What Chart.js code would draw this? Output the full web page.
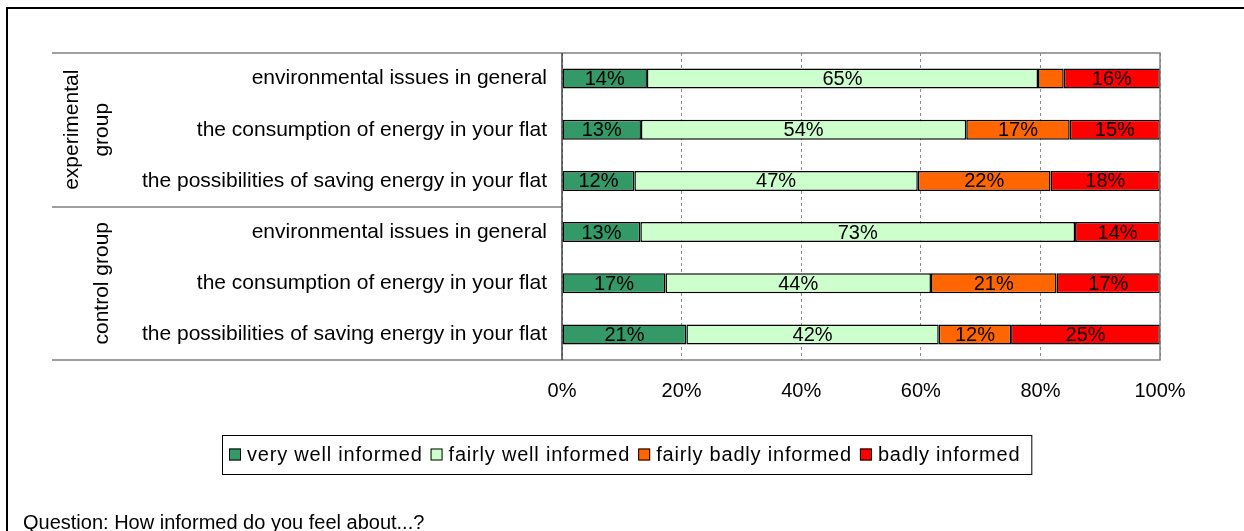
<!DOCTYPE html>
<html>
<head>
<meta charset="utf-8">
<title>How informed do you feel about...?</title>
<script src="https://cdn.jsdelivr.net/npm/chart.js@4.4.1/dist/chart.umd.min.js"></script>
<style>
  html, body { margin: 0; padding: 0; background: #fff; }
  #wrap { position: relative; width: 1244px; height: 531px; }
</style>
</head>
<body>
<div id="wrap"><canvas id="infoChart"></canvas></div>
<script>
/* data */
const categories = [
  'environmental issues in general',
  'the consumption of energy in your flat',
  'the possibilities of saving energy in your flat',
  'environmental issues in general',
  'the consumption of energy in your flat',
  'the possibilities of saving energy in your flat'
];
const groupNames = [['experimental', 'group'], ['control group']];
const groupSizes = [3, 3];
const seriesNames = ['very well informed', 'fairly well informed', 'fairly badly informed', 'badly informed'];
const veryWell    = [14.2, 13.2, 12.1, 13.1, 17.3, 20.8];
const fairlyWell  = [65.4, 54.4, 47.4, 72.7, 44.4, 42.2];
const fairlyBadly = [4.3, 17.3, 22.2, null, 21.0, 12.1];
const badly       = [16.1, 15.1, 18.3, 14.2, 17.3, 24.9];
const xTicks = [0, 20, 40, 60, 80, 100];
const footnote = 'Question: How informed do you feel about...?';

const seriesColors = ['#339966', '#ccffcc', '#ff6600', '#ff0000'];
const FONT = "'Liberation Sans', Arial, sans-serif";

/* ── PLUGINS ── */
// outer frame, group captions, plot frame and divider lines
const framePlugin = {
  id: 'frame',
  beforeDraw(chart) {
    const { ctx } = chart;
    ctx.save();
    ctx.strokeStyle = '#000';
    ctx.lineWidth = 2;
    ctx.beginPath();
    ctx.moveTo(7, 531);
    ctx.lineTo(7, 8);
    ctx.lineTo(1244, 8);
    ctx.stroke();

    ctx.fillStyle = '#000';
    ctx.font = '20px ' + FONT;
    ctx.textAlign = 'left';
    ctx.textBaseline = 'alphabetic';
    ctx.fillText(footnote, 23, 529);
    ctx.restore();
  },
  afterDatasetsDraw(chart) {
    const { ctx, chartArea: a, scales: { y } } = chart;
    const leftX = 52;
    ctx.save();
    ctx.strokeStyle = '#808080';
    ctx.lineWidth = 1.5;
    ctx.beginPath();
    ctx.moveTo(leftX, a.top); ctx.lineTo(a.right, a.top);
    ctx.lineTo(a.right, a.bottom); ctx.lineTo(leftX, a.bottom);
    // group separators in the label column
    let idx = 0;
    groupSizes.slice(0, -1).forEach(n => {
      idx += n;
      const sy = Math.round((y.getPixelForValue(idx - 1) + y.getPixelForValue(idx)) / 2);
      ctx.moveTo(leftX, sy); ctx.lineTo(a.left, sy);
    });
    ctx.stroke();

    ctx.strokeStyle = '#404040';
    ctx.beginPath();
    ctx.moveTo(a.left, a.top); ctx.lineTo(a.left, a.bottom);
    ctx.stroke();

    // rotated group captions
    ctx.fillStyle = '#000';
    ctx.font = '21px ' + FONT;
    ctx.textAlign = 'center';
    ctx.textBaseline = 'alphabetic';
    let start = 0;
    groupNames.forEach((lines, g) => {
      const end = start + groupSizes[g] - 1;
      const cy = (y.getPixelForValue(start) + y.getPixelForValue(end)) / 2;
      lines.forEach((txt, k) => {
        const bx = 108 - (lines.length - 1 - k) * 30;
        ctx.save();
        ctx.translate(bx, cy);
        ctx.rotate(-Math.PI / 2);
        ctx.fillText(txt, 0, 0);
        ctx.restore();
      });
      start += groupSizes[g];
    });
    ctx.restore();
  }
};

// percentage labels centred on each segment
const barLabels = {
  id: 'barLabels',
  afterDatasetsDraw(chart) {
    const { ctx } = chart;
    ctx.save();
    ctx.fillStyle = '#000';
    ctx.font = '20px ' + FONT;
    ctx.textAlign = 'center';
    ctx.textBaseline = 'middle';
    chart.data.datasets.forEach((ds, i) => {
      chart.getDatasetMeta(i).data.forEach((bar, j) => {
        const v = ds.data[j];
        if (v == null || v < 5) return;
        ctx.fillText(Math.round(v) + '%', (bar.x + bar.base) / 2, bar.y + 1);
      });
    });
    ctx.restore();
  }
};

// boxed legend under the axis
const boxLegend = {
  id: 'boxLegend',
  afterDraw(chart) {
    const { ctx } = chart;
    const items = chart.data.datasets.map(d => ({ text: d.label, color: d.backgroundColor }));
    ctx.save();
    ctx.font = '20px ' + FONT;
    ctx.letterSpacing = '0.8px';
    const sq = 12, gap = 6, between = 8, padL = 7, padR = 11;
    const widths = items.map(it => ctx.measureText(it.text).width);
    const total = padL + padR + widths.reduce((s, w) => s + w + sq + gap, 0) + between * (items.length - 1);
    const left = Math.round(627 - total / 2), top = 435, h = 39, cy = top + h / 2;

    ctx.strokeStyle = '#000';
    ctx.lineWidth = 1;
    ctx.strokeRect(left + 0.5, top + 0.5, total, h);

    let x = left + padL;
    ctx.textBaseline = 'middle';
    ctx.textAlign = 'left';
    items.forEach((it, k) => {
      ctx.fillStyle = it.color;
      ctx.fillRect(x, cy - sq / 2, sq, sq);
      ctx.strokeRect(x + 0.5, cy - sq / 2 + 0.5, sq - 1, sq - 1);
      ctx.fillStyle = '#000';
      ctx.fillText(it.text, x + sq + gap, cy + 1);
      x += sq + gap + widths[k] + between;
    });
    ctx.restore();
  }
};

/* ── CHART ── */
const seriesData = [veryWell, fairlyWell, fairlyBadly, badly];

new Chart(document.getElementById('infoChart'), {
  type: 'bar',
  data: {
    labels: categories,
    datasets: seriesNames.map((name, i) => ({
      label: name,
      data: seriesData[i],
      backgroundColor: seriesColors[i],
      borderColor: '#000',
      borderWidth: 1.5,
      borderSkipped: false,
      barPercentage: 0.39,
      categoryPercentage: 1
    }))
  },
  options: {
    indexAxis: 'y',
    responsive: true,
    maintainAspectRatio: false,
    animation: false,
    layout: { padding: { top: 53, right: 84, left: 0, bottom: 0 } },
    plugins: { legend: { display: false }, tooltip: { enabled: false } },
    scales: {
      x: {
        stacked: true,
        min: 0,
        max: 100,
        afterBuildTicks: s => { s.ticks = xTicks.map(v => ({ value: v })); },
        afterFit: s => { s.height = 171; },
        grid: { color: '#8c8c8c', lineWidth: 1, drawTicks: false },
        border: { display: false, dash: [3, 3] },
        ticks: {
          padding: 19,
          color: '#000',
          font: { family: FONT, size: 20 },
          callback: v => v + '%'
        }
      },
      y: {
        stacked: true,
        afterFit: s => { s.width = 562; },
        grid: { display: false },
        border: { display: false },
        ticks: {
          padding: 7,
          color: '#000',
          font: { family: FONT, size: 21 }
        }
      }
    }
  },
  plugins: [framePlugin, barLabels, boxLegend]
});
</script>
</body>
</html>
